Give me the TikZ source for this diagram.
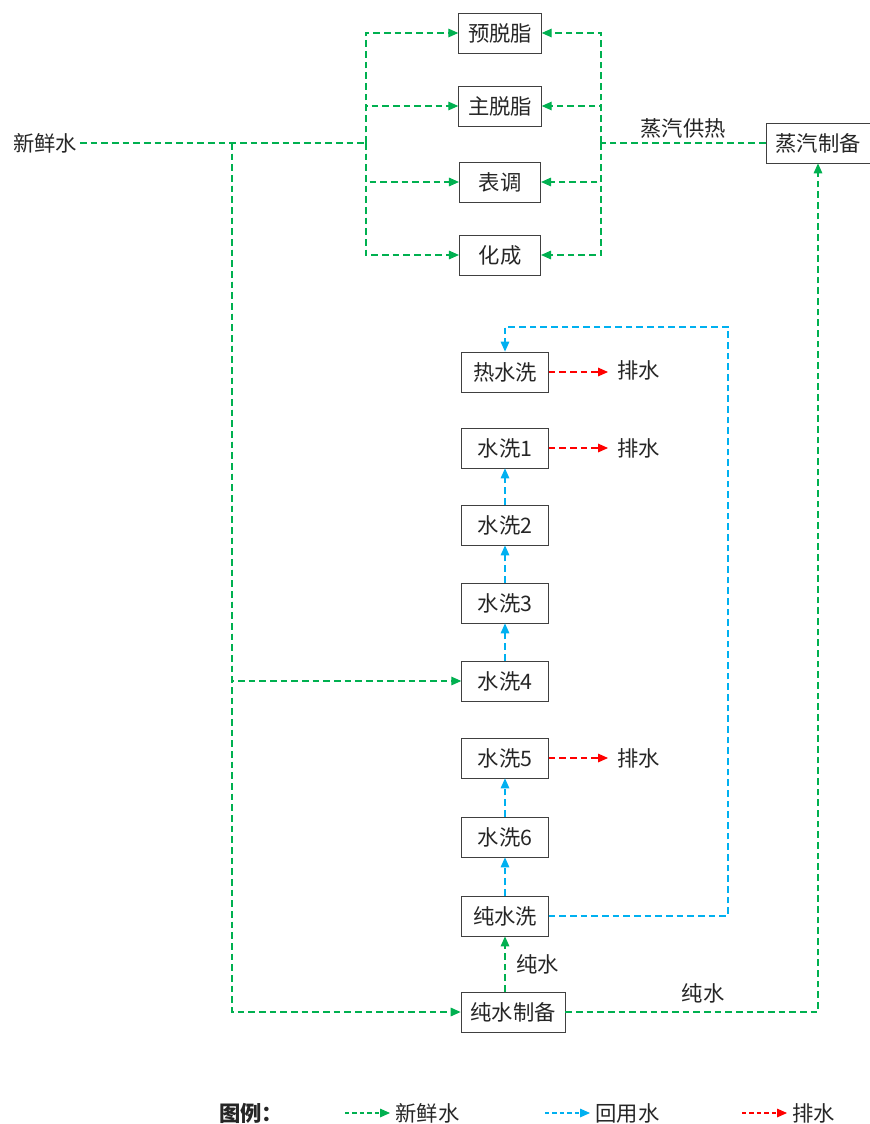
\documentclass[tikz,border=0pt]{standalone}
\usepackage{fontspec}
\usetikzlibrary{arrows.meta}
\newfontfamily\cjk{Noto Sans CJK SC}
\definecolor{fresh}{RGB}{0,176,80}
\definecolor{reuse}{RGB}{0,176,240}
\definecolor{drain}{RGB}{255,0,0}
\tikzset{
  unit/.style={draw=black!75, line width=0.6pt, minimum height=30pt, minimum width=65pt, inner xsep=7pt},
  tag/.style={inner sep=2pt, text=black!85},
  outlet/.style={anchor=west, inner xsep=7pt},
  flow/.style={-{Triangle[length=7.5pt,width=6.5pt]}},
  freshline/.style={fresh, line width=0.8pt, dash pattern=on 5pt off 3pt},
  reuseline/.style={reuse, line width=0.8pt, dash pattern=on 5pt off 3pt},
  drainline/.style={drain, line width=0.8pt, dash pattern=on 5pt off 3pt},
  keyline/.style={line width=0.8pt, dash pattern=on 3.2pt off 2.4pt}
}
\begin{document}
\begin{tikzpicture}[x=0.75pt,y=-0.75pt, font=\cjk\fontsize{16}{19}\selectfont, text=black!85]
  \useasboundingbox (0,0) rectangle (869,1124);

  % pretreatment
  \node[unit, minimum width=61pt] (pre)  at (500,33)  {预脱脂};
  \node[unit, minimum width=61pt] (main) at (500,106) {主脱脂};
  \node[unit, minimum width=61pt] (cond) at (500,182) {表调};
  \node[unit, minimum width=61pt] (conv) at (500,255) {化成};
  \node[unit] (steam) at (818,143) {蒸汽制备};
  \node[tag] (src) at (45,143) {新鲜水};

  % washing line
  \node[unit] (hot) at (505,372) {热水洗};
  \node[unit] (w1) at (505,448) {水洗1};
  \node[unit] (w2) at (505,525) {水洗2};
  \node[unit] (w3) at (505,603) {水洗3};
  \node[unit] (w4) at (505,681) {水洗4};
  \node[unit] (w5) at (505,758) {水洗5};
  \node[unit] (w6) at (505,837) {水洗6};
  \node[unit] (pw) at (505,916) {纯水洗};
  \node[unit] (pz) at (513,1012) {纯水制备};

  \node[outlet] (d0) at (608,370) {排水};
  \node[outlet] (d1) at (608,448) {排水};
  \node[outlet] (d5) at (608,758) {排水};

  \coordinate (fork) at (366,143);
  \coordinate (tap) at (232,143);
  \coordinate (heat) at (601,143);
  \coordinate (loop) at (728,327);

  % fresh water
  \draw[freshline] (src.east) -- (fork);
  \foreach \s in {pre,main,cond,conv}
    \draw[freshline,flow] (fork) |- (\s.west);
  \draw[freshline,flow] (tap) |- (w4.west);
  \draw[freshline,flow] (tap) |- (pz.west);
  \draw[freshline] (steam.west) -- node[tag, above=1pt] {蒸汽供热} (heat);
  \foreach \s in {pre,main,cond,conv}
    \draw[freshline,flow] (heat) |- (\s.east);
  \draw[freshline,flow] (pz.north -| pw.south) -- node[tag, right=6pt] {纯水} (pw.south);
  \draw[freshline,flow] (pz.east) -| (steam.south);
  \node[tag] (pwlabel) at (703,993) {纯水};

  % reused water
  \draw[reuseline,flow] (pw.north) -- (w6.south);
  \draw[reuseline,flow] (w6.north) -- (w5.south);
  \draw[reuseline,flow] (w4.north) -- (w3.south);
  \draw[reuseline,flow] (w3.north) -- (w2.south);
  \draw[reuseline,flow] (w2.north) -- (w1.south);
  \draw[reuseline,flow] (pw.east) -| (loop) -| (hot.north);

  % drain
  \draw[drainline,flow] (hot.east) -- (d0.west |- hot.east);
  \draw[drainline,flow] (w1.east) -- (d1.west);
  \draw[drainline,flow] (w5.east) -- (d5.west);

  % legend
  \node[tag] (key) at (251,1113) {\bfseries 图例：};
  \coordinate (k1) at (345,1113);
  \coordinate (k2) at (545,1113);
  \coordinate (k3) at (742,1113);
  \node[anchor=west, inner xsep=4pt] (t1) at (390,1113) {新鲜水};
  \node[anchor=west, inner xsep=4pt] (t2) at (590,1113) {回用水};
  \node[anchor=west, inner xsep=4pt] (t3) at (787,1113) {排水};
  \draw[keyline,fresh,flow] (k1) -- (t1.west);
  \draw[keyline,reuse,flow] (k2) -- (t2.west);
  \draw[keyline,drain,flow] (k3) -- (t3.west);
\end{tikzpicture}
\end{document}
